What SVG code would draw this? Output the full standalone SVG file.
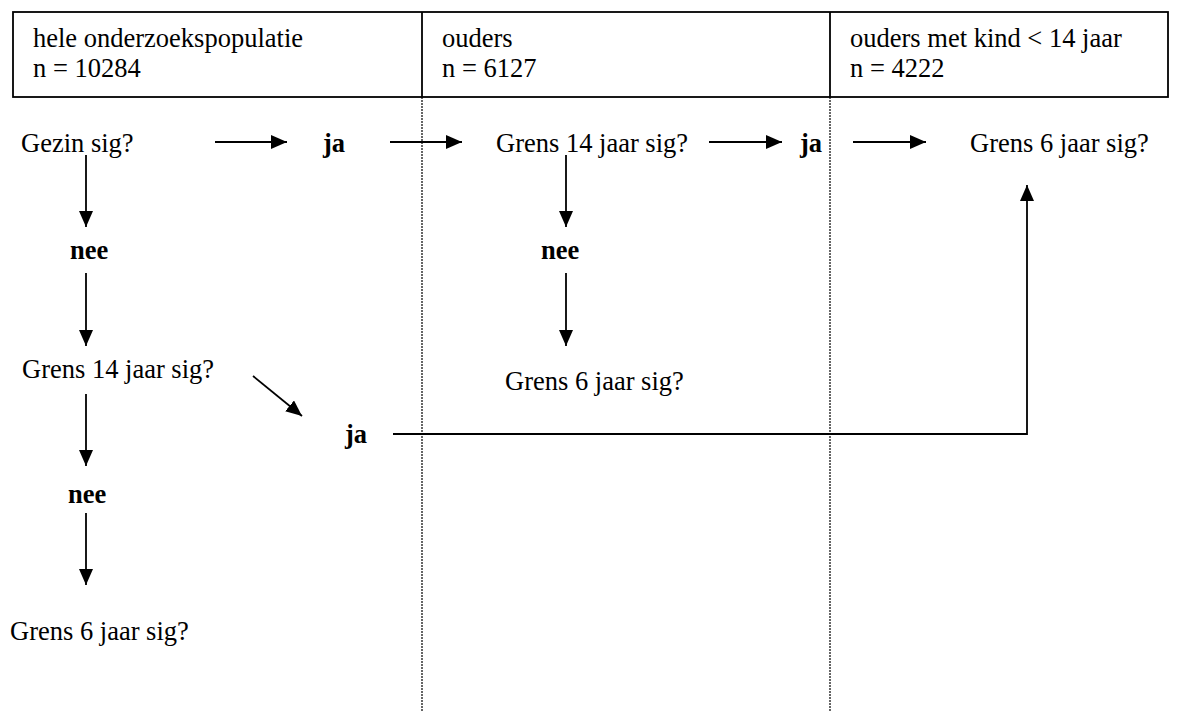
<svg xmlns="http://www.w3.org/2000/svg" width="1178" height="711" viewBox="0 0 1178 711">
<defs>
<style>
text{font-family:'Liberation Serif','Tinos','Times New Roman','Noto Serif','DejaVu Serif',serif;font-size:26.5px;fill:#000}
.b{font-weight:bold}
.c{fill:none;stroke:#000;stroke-width:1.8}
.hdr{fill:none;stroke:#000;stroke-width:1.8}
.dot{fill:none;stroke:#000;stroke-width:1.2;stroke-dasharray:2 1}
</style>
<marker id="ah" viewBox="0 0 16 14" refX="16" refY="7" markerWidth="16" markerHeight="14" markerUnits="userSpaceOnUse" orient="auto">
<path d="M0,0 L16,7 L0,14 z" fill="#000"/>
</marker>
</defs>
<rect width="1178" height="711" fill="#fff"/>
<g id="header">
<rect class="hdr" x="13" y="12" width="1155" height="85"/>
<line class="hdr" x1="422" y1="12" x2="422" y2="97"/>
<line class="hdr" x1="830" y1="12" x2="830" y2="97"/>
</g>
<g id="dividers">
<line class="dot" x1="422" y1="97" x2="422" y2="711"/>
<line class="dot" x1="830" y1="97" x2="830" y2="711"/>
</g>
<g id="hdr-populatie" font-family="Liberation Serif, serif"><text x="33" y="47">hele onderzoekspopulatie</text><text x="33" y="77">n = 10284</text></g>
<g id="hdr-ouders"><text x="442" y="47">ouders</text><text x="442" y="77">n = 6127</text></g>
<g id="hdr-kind"><text x="850" y="47">ouders met kind &lt; 14 jaar</text><text x="850" y="77">n = 4222</text></g>
<g id="n-gezin"><text x="21" y="152">Gezin sig?</text></g>
<g id="n-ja1"><text class="b" x="323" y="152">ja</text></g>
<g id="n-grens14b"><text x="496" y="152">Grens 14 jaar sig?</text></g>
<g id="n-ja2"><text class="b" x="800" y="152">ja</text></g>
<g id="n-grens6c"><text x="970" y="152">Grens 6 jaar sig?</text></g>
<g id="n-nee1"><text class="b" x="70" y="259">nee</text></g>
<g id="n-nee2"><text class="b" x="541" y="259">nee</text></g>
<g id="n-grens14a"><text x="22" y="378">Grens 14 jaar sig?</text></g>
<g id="n-grens6b"><text x="505" y="390">Grens 6 jaar sig?</text></g>
<g id="n-ja3"><text class="b" x="345" y="443">ja</text></g>
<g id="n-nee3"><text class="b" x="68" y="503">nee</text></g>
<g id="n-grens6a"><text x="10" y="640">Grens 6 jaar sig?</text></g>
<g id="connectors">
<path class="c" marker-end="url(#ah)" d="M215,142 H287"/>
<path class="c" marker-end="url(#ah)" d="M390,142 H462"/>
<path class="c" marker-end="url(#ah)" d="M709,142 H782"/>
<path class="c" marker-end="url(#ah)" d="M853,142 H926"/>
<path class="c" marker-end="url(#ah)" d="M86,155 V227"/>
<path class="c" marker-end="url(#ah)" d="M86,273 V346"/>
<path class="c" marker-end="url(#ah)" d="M86,394 V466"/>
<path class="c" marker-end="url(#ah)" d="M86,513 V585"/>
<path class="c" marker-end="url(#ah)" d="M253,376 L302,416"/>
<path class="c" marker-end="url(#ah)" d="M393,434 H1027 V185"/>
<path class="c" marker-end="url(#ah)" d="M566,155 V227"/>
<path class="c" marker-end="url(#ah)" d="M566,273 V346"/>
</g>
</svg>
